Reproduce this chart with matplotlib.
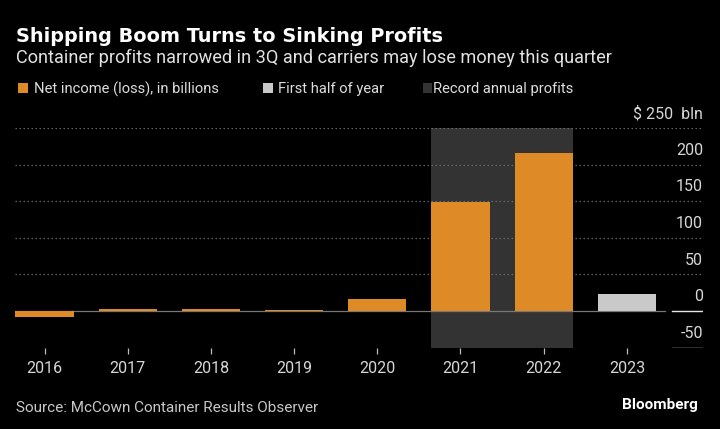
import matplotlib
matplotlib.use("Agg")
import matplotlib.pyplot as plt
from matplotlib.patches import Rectangle

# ---- data ----
years = ["2016", "2017", "2018", "2019", "2020", "2021", "2022", "2023"]
net_income = [-8.5, 2.0, 2.0, 1.0, 16.5, 149.0, 216.0, None]
first_half = [None, None, None, None, None, None, None, 22.5]
record_years = ["2021", "2022"]
y_ticks = [-50, 0, 50, 100, 150, 200, 250]
y_labels = ["-50", "0", "50", "100", "150", "200", "$ 250  bln"]

ORANGE = "#de8b27"
LIGHT = "#c9c9c9"
SHADE = "#333333"
BG = "#000000"

plt.rcParams["font.family"] = ["Roboto", "DejaVu Sans"]

W, H = 720, 429
fig = plt.figure(figsize=(W / 100, H / 100), dpi=100, facecolor=BG)

def fx(px):
    return px / W

def fy(py):
    return 1 - py / H

left, right, top, bottom = 15, 703, 128, 347.5
ax = fig.add_axes([fx(left), fy(bottom), (right - left) / W, (bottom - top) / H])
ax.set_facecolor(BG)
for s in ax.spines.values():
    s.set_visible(False)

x = list(range(len(years)))
bw = 0.70
ax.set_xlim(-0.355, 7.915)
ax.set_ylim(y_ticks[0], y_ticks[-1])

# record profits shading
i0 = years.index(record_years[0])
i1 = years.index(record_years[-1])
ax.axvspan(i0 - bw / 2, i1 + bw / 2, color=SHADE, zorder=0, lw=0)

# gridlines
for t in y_ticks:
    if t > 0:
        ax.axhline(t, color="#6e6e6e", lw=0.9, ls=(0, (1.1, 2.1)), zorder=1)
ax.axhline(0, xmin=0, xmax=(665 - left) / (right - left), color="#777777", lw=0.9, zorder=1)
for t in y_ticks[:2]:
    ax.axhline(t, xmin=(672 - left) / (right - left), xmax=1.0, color="#e6e6e6", lw=1.0, zorder=1)

# bars
ni_x = [xi for xi, v in zip(x, net_income) if v is not None]
ni_v = [v for v in net_income if v is not None]
ax.bar(ni_x, ni_v, width=bw, color=ORANGE, zorder=3, lw=0)
fh_x = [xi for xi, v in zip(x, first_half) if v is not None]
fh_v = [v for v in first_half if v is not None]
ax.bar(fh_x, fh_v, width=bw, color=LIGHT, zorder=3, lw=0)

# y labels on the right, above their gridlines
ax.set_yticks([])
for t, lab in zip(y_ticks, y_labels):
    ax.annotate(lab, xy=(1.0, t), xycoords=("axes fraction", "data"),
                xytext=(0, 7.0), textcoords="offset points",
                ha="right", va="baseline", color="#d6d6d6", fontsize=11.5)

# x ticks
ax.set_xticks(x)
ax.set_xticklabels(years)
ax.tick_params(axis="x", colors="#bbbbbb", length=4, width=0.9, pad=6,
               labelsize=11.5, labelcolor="#d6d6d6")

# titles
fig.text(fx(16), fy(41.7), "Shipping Boom Turns to Sinking Profits", color="white",
         fontsize=13.85, fontweight="bold", va="baseline", ha="left",
         family=["DejaVu Sans"])
fig.text(fx(16), fy(62.7), "Container profits narrowed in 3Q and carriers may lose money this quarter",
         color="#e2e2e2", fontsize=13.1, va="baseline", ha="left")

# legend
legend_items = [(18.3, ORANGE, 34.3, "Net income (loss), in billions"),
                (263.3, LIGHT, 278.3, "First half of year"),
                (422.7, SHADE, 432.7, "Record annual profits")]
for sx, col, tx, lab in legend_items:
    fig.add_artist(Rectangle((fx(sx), fy(92.5)), 9.5 / W, 9.2 / H, transform=fig.transFigure,
                             facecolor=col, edgecolor="none"))
    fig.text(fx(tx), fy(93.3), lab, color="#dddddd", fontsize=10.6, va="baseline", ha="left")

# footer
fig.text(fx(16), fy(412), "Source: McCown Container Results Observer", color="#c8c8c8",
         fontsize=11.0, va="baseline", ha="left")
fig.text(fx(698), fy(409.5), "Bloomberg", color="white", fontsize=11.0,
         fontweight="bold", va="baseline", ha="right")

fig.savefig("out.png", dpi=100, facecolor=BG)
